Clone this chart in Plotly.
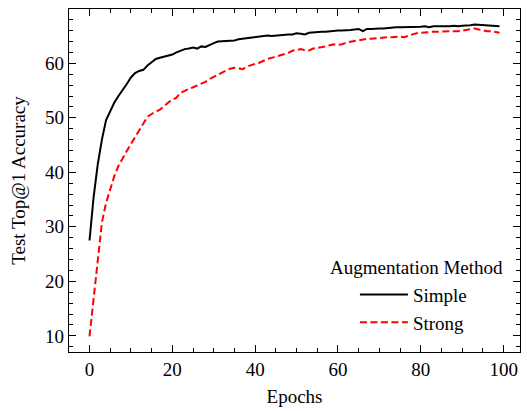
import plotly.graph_objects as go

epochs = list(range(100))

simple_acc = [
    27.5, 35.5, 41.5, 46.0, 49.6, 51.2, 52.8, 54.0, 55.0, 56.2,
    57.4, 58.2, 58.6, 58.8, 59.6, 60.2, 60.8, 61.0, 61.2, 61.5,
    61.6, 62.0, 62.3, 62.6, 62.7, 62.9, 62.7, 63.1, 63.0, 63.4,
    63.7, 64.0, 64.05, 64.1, 64.2, 64.2, 64.4, 64.5, 64.6, 64.7,
    64.9, 65.0, 65.1, 65.1, 65.0, 65.1, 65.1, 65.2, 65.3, 65.3,
    65.5, 65.4, 65.3, 65.6, 65.7, 65.7, 65.8, 65.8, 65.9, 65.9,
    66.0, 66.0, 66.0, 66.1, 66.2, 66.3, 65.9, 66.3, 66.3, 66.4,
    66.4, 66.4, 66.5, 66.5, 66.6, 66.6, 66.6, 66.7, 66.6, 66.7,
    66.7, 66.8, 66.6, 66.8, 66.8, 66.8, 66.7, 66.8, 66.9, 66.8,
    66.9, 66.9, 67.0, 67.1, 67.05, 66.9, 66.9, 66.9, 66.8, 66.8,
]

strong_acc = [
    9.9, 17.0, 24.8, 30.8, 34.4, 37.0, 39.3, 41.2, 42.7, 43.9,
    45.2, 46.5, 47.7, 49.0, 50.2, 50.7, 51.1, 51.5, 52.1, 52.8,
    53.3, 53.7, 54.6, 55.0, 55.3, 55.6, 55.9, 56.3, 56.6, 57.1,
    57.5, 58.0, 58.4, 58.7, 59.0, 59.2, 59.1, 58.9, 59.4, 59.7,
    59.9, 60.1, 60.5, 60.8, 61.0, 61.2, 61.4, 61.6, 61.9, 62.3,
    62.5, 62.6, 62.4, 62.35, 62.7, 62.8, 62.9, 63.1, 63.3, 63.5,
    63.4, 63.5, 63.8, 64.0, 64.1, 64.2, 64.4, 64.5, 64.5, 64.6,
    64.6, 64.7, 64.8, 64.8, 64.9, 64.9, 64.8, 65.1, 65.3, 65.5,
    65.6, 65.7, 65.8, 65.8, 65.8, 65.8, 65.9, 65.8, 65.8, 65.9,
    66.0, 66.1, 66.3, 66.4, 66.2, 66.0, 65.9, 65.9, 65.7, 65.6,
]

series_names = ["Simple", "Strong"]
legend_title = "Augmentation Method"
x_ticks = [0, 20, 40, 60, 80, 100]
y_ticks = [10, 20, 30, 40, 50, 60]

FONT = "Liberation Serif, Times New Roman, serif"

fig = go.Figure()
fig.add_trace(go.Scatter(x=epochs, y=simple_acc, mode="lines", name=series_names[0],
                         line=dict(color="black", width=2)))
fig.add_trace(go.Scatter(x=epochs, y=strong_acc, mode="lines", name=series_names[1],
                         line=dict(color="red", width=2, dash="7px,3.5px")))

# matplotlib-like 5% margins
xmin, xmax = min(epochs), max(epochs)
xm = 0.05 * (xmax - xmin)
all_y = simple_acc + strong_acc
ymin, ymax = min(all_y), max(all_y)
ym = 0.05 * (ymax - ymin)

axis_common = dict(
    showline=True, linecolor="black", linewidth=1.3, mirror="ticks",
    ticks="inside", ticklen=7, tickwidth=1.2, tickcolor="black",
    showgrid=False, zeroline=False,
    tickfont=dict(family=FONT, size=19, color="black"),
)

fig.update_xaxes(range=[xmin - xm, xmax + xm], tickvals=x_ticks,
                 minor=dict(ticks="inside", dtick=5, tick0=0, ticklen=4, tickwidth=1, tickcolor="black", showgrid=False),
                 title=dict(text="Epochs", font=dict(family=FONT, size=19, color="black"), standoff=10),
                 **axis_common)
fig.update_yaxes(range=[ymin - ym, ymax + ym], tickvals=y_ticks,
                 minor=dict(ticks="inside", dtick=2, tick0=0, ticklen=4, tickwidth=1, tickcolor="black", showgrid=False),
                 title=dict(text="Test Top@1 Accuracy", font=dict(family=FONT, size=19, color="black"), standoff=14),
                 **axis_common)

fig.update_layout(
    width=527, height=411,
    margin=dict(l=69, r=7, t=9, b=59),
    plot_bgcolor="white", paper_bgcolor="white",
    font=dict(family=FONT, size=19, color="black"),
    legend=dict(
        x=0.634, y=0.03, xanchor="left", yanchor="bottom",
        bgcolor="rgba(0,0,0,0)",
        font=dict(family=FONT, size=19),
        itemwidth=48,
    ),
    annotations=[dict(
        text=legend_title, xref="paper", yref="paper", x=0.7705, y=0.245,
        xanchor="center", yanchor="middle", showarrow=False,
        font=dict(family=FONT, size=19, color="black"),
    )],
)

fig.write_html("out.html", config={"displayModeBar": False},
               post_script="document.body.style.margin='0px';document.body.style.overflow='hidden';")
